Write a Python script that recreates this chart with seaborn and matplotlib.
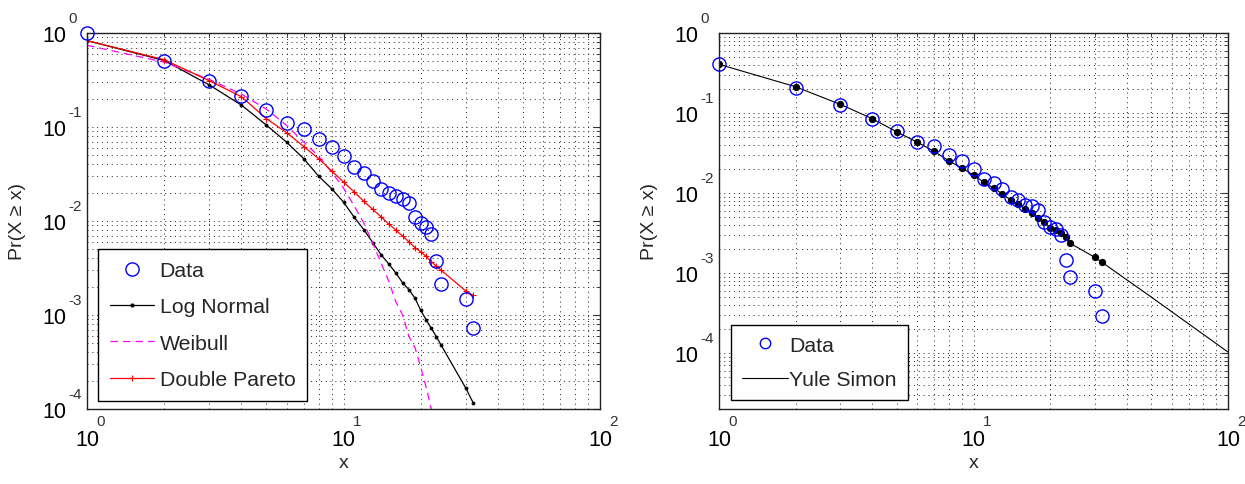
import matplotlib
matplotlib.use("Agg")
import matplotlib.pyplot as plt
import matplotlib.transforms as mtrans
import seaborn as sns
import numpy as np
from matplotlib.lines import Line2D
from matplotlib.ticker import LogLocator, FuncFormatter, NullFormatter

# ---------------- data ----------------
x_data = [1, 2, 3, 4, 5, 6, 7, 8, 9, 10, 11, 12, 13, 14, 15, 16, 17, 18, 19, 20,
          21, 22, 23, 24, 30, 32]

# left panel: empirical CCDF and fits
ccdf_data = [1.0, 0.50, 0.31, 0.214, 0.152, 0.110, 0.095, 0.0745, 0.061, 0.049,
             0.0375, 0.0324, 0.0267, 0.0219, 0.0199, 0.0185, 0.0171, 0.0155, 0.011, 0.0095,
             0.0086, 0.0073, 0.00375, 0.00214, 0.00148, 0.00073]
lognormal = [0.83, 0.51, 0.28, 0.171, 0.105, 0.069, 0.046, 0.030, 0.022, 0.0159,
             0.011, 0.0081, 0.0059, 0.0044, 0.0035, 0.0028, 0.0022, 0.00186, 0.00151, 0.00112,
             0.00089, 0.00072, 0.00059, 0.00048, 0.000166, 0.000117]
weibull_x = [1, 2, 3, 4, 5, 6, 7, 8, 9, 10, 11, 12, 13, 14, 15, 16, 17, 18, 19, 20,
             21, 22, 23, 24]
weibull = [0.74, 0.49, 0.32, 0.224, 0.155, 0.104, 0.069, 0.049, 0.033, 0.0224,
           0.0145, 0.0095, 0.0058, 0.0036, 0.0023, 0.00138, 0.0010, 0.00059, 0.00045, 0.00028,
           0.00017, 0.0001, 0.000056, 0.000032]
double_pareto = [0.83, 0.52, 0.31, 0.21, 0.123, 0.087, 0.062, 0.046, 0.034, 0.026,
                 0.0204, 0.0162, 0.0133, 0.0111, 0.0093, 0.0080, 0.0069, 0.0060, 0.0052, 0.0047,
                 0.0042, 0.0037, 0.0033, 0.0030, 0.0018, 0.00162]

# right panel: empirical distribution and Yule-Simon fit
pmf_data = [0.406, 0.207, 0.126, 0.085, 0.0596, 0.0434, 0.0387, 0.0299, 0.0253, 0.0197,
            0.0148, 0.0132, 0.0111, 0.0090, 0.0082, 0.0071, 0.0069, 0.0061, 0.0044, 0.0038,
            0.0036, 0.0030, 0.00145, 0.00088, 0.000596, 0.00029]
yule_dots = [0.406, 0.213, 0.128, 0.085, 0.058, 0.0434, 0.0332, 0.0253, 0.0205, 0.0168,
             0.0136, 0.01155, 0.0097, 0.0082, 0.0072, 0.00625, 0.0056, 0.0049, 0.0043, 0.00368,
             0.00345, 0.00313, 0.00279, 0.00235, 0.00157, 0.00136]
yule_tail_x = [50, 100]
yule_tail = [0.0005, 0.000103]

x_ticks = [1, 10, 100]
y_ticks = [1e-4, 1e-3, 1e-2, 1e-1, 1]

# ---------------- style ----------------
sns.set_style("white")
plt.rcParams['font.family'] = ['Liberation Sans', 'DejaVu Sans']

W, H = 1245, 485
fig = plt.figure(figsize=(W / 100, H / 100), dpi=100)
axL = fig.add_axes([87 / W, 1 - 410 / H, (600 - 87) / W, (410 - 34) / H])
axR = fig.add_axes([719 / W, 1 - 410 / H, (1228 - 719) / W, (410 - 34) / H])

BLUE = '#0000ff'
MAG = '#ff00ff'
RED = '#ff0000'

# ---- left panel ----
sns.lineplot(x=x_data, y=lognormal, ax=axL, estimator=None, sort=False, legend=False,
             color='black', linewidth=0.9, marker='.', markersize=4,
             markeredgecolor='black', markerfacecolor='black')
sns.lineplot(x=weibull_x, y=weibull, ax=axL, estimator=None, sort=False, legend=False,
             color=MAG, linewidth=0.9, linestyle=(0, (6, 4)))
sns.lineplot(x=x_data, y=double_pareto, ax=axL, estimator=None, sort=False, legend=False,
             color=RED, linewidth=0.9, marker='+', markersize=4.5,
             markeredgewidth=0.8, markeredgecolor=RED)
sns.lineplot(x=x_data, y=ccdf_data, ax=axL, estimator=None, sort=False, legend=False,
             linestyle='none', marker='o', markersize=9.5, markerfacecolor='none',
             markeredgecolor=BLUE, markeredgewidth=1.0, clip_on=False, zorder=5)

# ---- right panel ----
sns.lineplot(x=x_data + yule_tail_x, y=yule_dots + yule_tail, ax=axR, estimator=None,
             sort=False, legend=False, color='black', linewidth=0.8)
sns.lineplot(x=x_data, y=yule_dots, ax=axR, estimator=None, sort=False, legend=False,
             linestyle='none', marker='o', markersize=4.5, markerfacecolor='black',
             markeredgecolor='black')
sns.lineplot(x=x_data, y=pmf_data, ax=axR, estimator=None, sort=False, legend=False,
             linestyle='none', marker='o', markersize=9.5, markerfacecolor='none',
             markeredgecolor=BLUE, markeredgewidth=1.0, clip_on=False, zorder=5)

ten = FuncFormatter(lambda v, p: '10')
PX = 1 / 100.0  # one pixel in inches at dpi 100

for ax, ylim, axw in [(axL, (1e-4, 1.0), 513), (axR, (2e-5, 1.0), 509)]:
    ax.set_xscale('log')
    ax.set_yscale('log')
    ax.set_xlim(1, 100)
    ax.set_ylim(*ylim)
    ax.set_xticks(x_ticks)
    ax.set_yticks(y_ticks)
    ax.xaxis.set_major_formatter(ten)
    ax.yaxis.set_major_formatter(ten)
    ax.xaxis.set_minor_locator(LogLocator(base=10, subs=range(2, 10), numticks=20))
    ax.yaxis.set_minor_locator(LogLocator(base=10, subs=range(2, 10), numticks=20))
    ax.xaxis.set_minor_formatter(NullFormatter())
    ax.yaxis.set_minor_formatter(NullFormatter())
    ax.grid(True, which='both', linestyle=(0, (1, 4)), color='#222222', linewidth=0.7)
    ax.tick_params(which='both', direction='in', top=True, right=True, color='#333333')
    ax.tick_params(which='major', length=5, labelsize=15.5, labelcolor='black')
    ax.tick_params(axis='y', which='major', pad=15)
    ax.tick_params(axis='x', which='major', pad=14.5)
    ax.tick_params(which='minor', length=3)
    for s in ax.spines.values():
        s.set_color('#222222')
        s.set_linewidth(1.0)
    # exponents of the "10" tick labels, MATLAB style
    for t in x_ticks:
        tr = mtrans.blended_transform_factory(ax.transData, ax.transAxes) + \
            mtrans.ScaledTranslation(9 * PX, -12 * PX, fig.dpi_scale_trans)
        ax.text(t, 0, str(int(round(np.log10(t)))), transform=tr, ha='left', va='center',
                fontsize=11, color='#333333', clip_on=False)
    for t in y_ticks:
        tr = mtrans.blended_transform_factory(ax.transAxes, ax.transData) + \
            mtrans.ScaledTranslation(-19 * PX, 15 * PX, fig.dpi_scale_trans)
        ax.text(0, t, str(int(round(np.log10(t)))), transform=tr, ha='left', va='center',
                fontsize=11, color='#333333', clip_on=False)
    ax.set_xlabel('x', fontsize=14)
    ax.xaxis.set_label_coords(0.5, -54 / 376)
    ax.xaxis.label.set_va('center')
    ax.set_ylabel('Pr(X \u2265 x)', fontsize=14)
    ax.yaxis.set_label_coords(-70 / axw, 0.5)
    ax.yaxis.label.set_va('center')

hL = [Line2D([], [], linestyle='none', marker='o', markersize=9.5, markerfacecolor='none',
             markeredgecolor=BLUE, markeredgewidth=1.0),
      Line2D([], [], color='black', linewidth=0.9, marker='.', markersize=4),
      Line2D([], [], color=MAG, linewidth=0.9, linestyle=(0, (6, 4))),
      Line2D([], [], color=RED, linewidth=0.9, marker='+', markersize=4.5,
             markeredgewidth=0.8)]
legL = axL.legend(hL, ['Data', 'Log Normal', 'Weibull', 'Double Pareto'],
                  loc='lower left', bbox_to_anchor=(11 / 513, 8 / 376), borderaxespad=0,
                  fontsize=15.3, fancybox=False, edgecolor='black', framealpha=1,
                  handlelength=2.1, labelspacing=0.82, borderpad=0.55, handletextpad=0.25)
legL.get_frame().set_linewidth(1.0)

hR = [Line2D([], [], linestyle='none', marker='o', markersize=7.5, markerfacecolor='none',
             markeredgecolor=BLUE, markeredgewidth=1.0),
      Line2D([], [], color='black', linewidth=0.8)]
legR = axR.legend(hR, ['Data', 'Yule Simon'],
                  loc='lower left', bbox_to_anchor=(12 / 509, 9 / 376), borderaxespad=0,
                  fontsize=15.3, fancybox=False, edgecolor='black', framealpha=1,
                  handlelength=2.2, labelspacing=0.74, borderpad=0.5, handletextpad=0.05)
legR.get_frame().set_linewidth(1.0)

fig.savefig('out.png', dpi=100)
